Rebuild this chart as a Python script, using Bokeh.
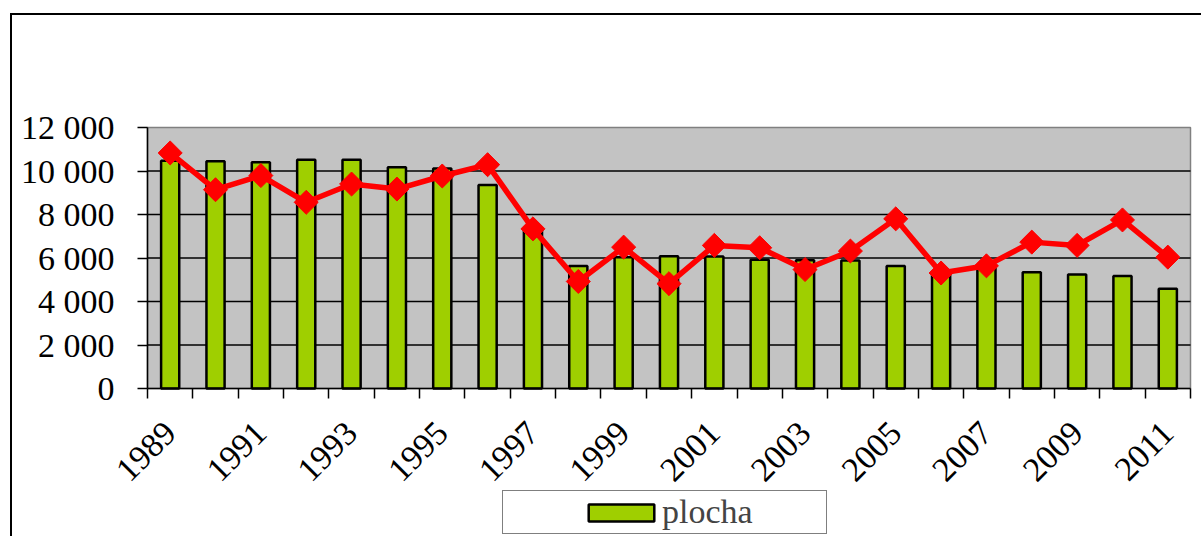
import math
from bokeh.plotting import figure
from bokeh.models import (FixedTicker, Range1d, Legend, LegendItem)
from bokeh.embed import file_html
from bokeh.resources import INLINE

years = [str(y) for y in range(1989, 2012)]
plocha = [10470, 10450, 10400, 10520, 10520, 10170, 10110, 9360, 7300, 5630,
          6040, 6080, 6070, 5920, 5900, 5890, 5630, 5350, 5550, 5340,
          5240, 5170, 4590]
druha = [10830, 9140, 9790, 8560, 9400, 9170, 9770, 10290, 7340, 4920,
         6500, 4820, 6580, 6470, 5470, 6320, 7800, 5310, 5640, 6730,
         6580, 7750, 6040]
y_ticks = [0, 2000, 4000, 6000, 8000, 10000, 12000]
y_tick_labels = ["0", "2 000", "4 000", "6 000", "8 000", "10 000", "12 000"]
legend_label = "plocha"

FONT = "Liberation Serif"
FS = "34px"

# layout in pixels: the frame covers the whole canvas, the grey plotting
# area is a part of it
CANVAS_W, CANVAS_H = 1189, 521
PLOT_LEFT, PLOT_TOP = 135, 112
PLOT_W, PLOT_H = 1043, 261

n = len(years)
Y_MAX = y_ticks[-1]
px_x = PLOT_W / n
px_y = PLOT_H / Y_MAX
plot_x0, plot_x1 = -0.5, n - 0.5
x_start = plot_x0 - PLOT_LEFT / px_x
x_end = x_start + CANVAS_W / px_x
y_end = Y_MAX + PLOT_TOP / px_y
y_start = y_end - CANVAS_H / px_y

p = figure(frame_width=CANVAS_W, frame_height=CANVAS_H,
           output_backend="svg", toolbar_location=None,
           x_range=Range1d(x_start, x_end), y_range=Range1d(y_start, y_end),
           min_border=0, min_border_left=0, min_border_right=0,
           min_border_top=0, min_border_bottom=0,
           styles={"border-left": "2px solid black", "border-top": "2px solid black",
                   "margin-left": "10px", "margin-top": "13px"})

p.background_fill_color = "white"
p.border_fill_color = "white"
p.outline_line_color = None

# grey plotting area
p.quad(left=plot_x0, right=plot_x1, bottom=0, top=Y_MAX,
       fill_color="#C3C3C3", line_color="#808080", line_width=1.5)
# horizontal grid lines
grid_y = y_ticks[1:-1]
p.segment(x0=[plot_x0] * len(grid_y), x1=[plot_x1] * len(grid_y),
          y0=grid_y, y1=grid_y, line_color="black", line_width=1.3)

idx = list(range(n))
bars = p.vbar(x=idx, top=plocha, width=0.4, bottom=0,
              fill_color="#9FCF00", line_color="black", line_width=2.5)
p.line(x=idx, y=druha, line_color="#FF0000", line_width=5.5)
p.scatter(x=idx, y=druha, marker="square", size=17, angle=math.pi / 4,
          fill_color="#FF0000", line_color="#FF0000")

p.xgrid.visible = False
p.ygrid.visible = False

# y axis at the left edge of the plotting area
p.yaxis.fixed_location = plot_x0
p.yaxis.ticker = FixedTicker(ticks=y_ticks)
p.yaxis.bounds = (0, Y_MAX)
p.yaxis.major_label_overrides = {t: l for t, l in zip(y_ticks, y_tick_labels)}
p.yaxis.major_tick_out = 10
p.yaxis.major_tick_in = 0
p.yaxis.minor_tick_line_color = None
p.yaxis.major_label_standoff = 23
p.yaxis.axis_line_color = "black"
p.yaxis.axis_line_width = 1.5
p.yaxis.major_tick_line_width = 1.5
p.yaxis.major_label_text_font = FONT
p.yaxis.major_label_text_font_size = FS
p.yaxis.major_label_text_color = "black"

# x axis at y = 0
label_ticks = idx[::2]
p.xaxis.fixed_location = 0
p.xaxis.bounds = (plot_x0, plot_x1)
p.xaxis.ticker = FixedTicker(ticks=label_ticks,
                             minor_ticks=[i - 0.5 for i in range(n + 1)])
p.xaxis.major_label_overrides = {i: years[i] for i in label_ticks}
p.xaxis.major_label_orientation = math.pi / 4
p.xaxis.major_tick_out = 0
p.xaxis.major_tick_in = 0
p.xaxis.minor_tick_out = 10
p.xaxis.minor_tick_in = 0
p.xaxis.minor_tick_line_width = 1.5
p.xaxis.minor_tick_line_color = "black"
p.xaxis.axis_line_color = "black"
p.xaxis.axis_line_width = 1.5
p.xaxis.major_label_standoff = 29
p.xaxis.major_label_text_font = FONT
p.xaxis.major_label_text_font_size = FS
p.xaxis.major_label_text_color = "black"

legend = Legend(items=[LegendItem(label=legend_label, renderers=[bars])],
                location=(490, 2), padding=2, margin=0,
                glyph_width=82, glyph_height=21, label_standoff=0,
                label_width=162,
                title=" ", title_location="left", title_text_font_size="1px",
                title_standoff=74,
                border_line_color="black", border_line_width=1.5,
                background_fill_color="#FFFFFF", background_fill_alpha=1,
                label_text_font=FONT, label_text_font_size=FS)
legend_props = Legend.properties()
if "item_background_policy" in legend_props:
    legend.item_background_policy = "none"
if "item_background_fill_alpha" in legend_props:
    legend.item_background_fill_alpha = 0
p.add_layout(legend, "center")

open("out.html", "w").write(file_html(p, INLINE))
